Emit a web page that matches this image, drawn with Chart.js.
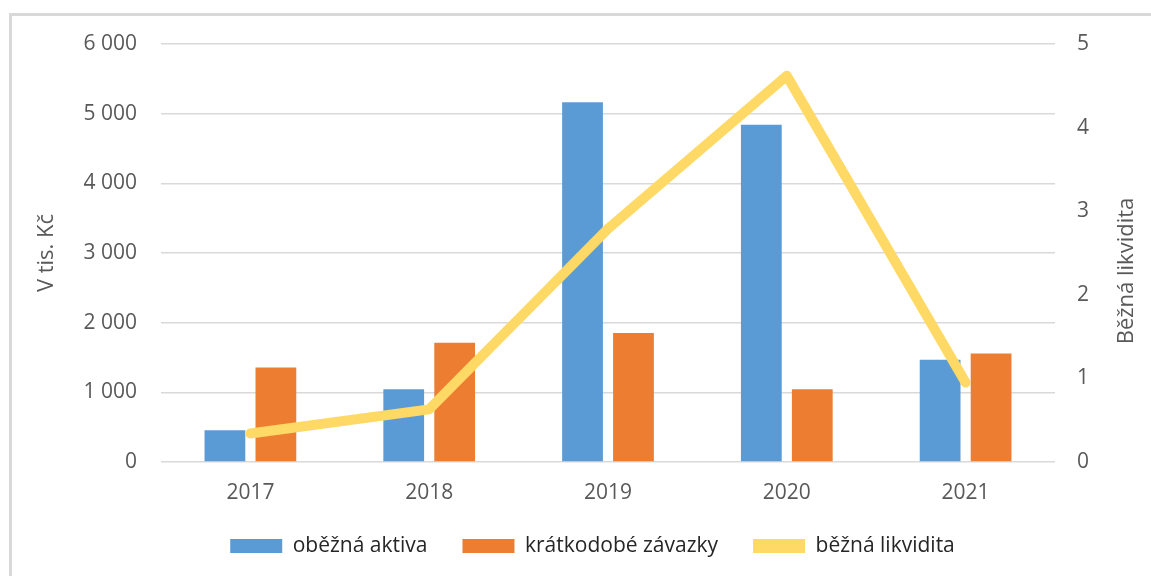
<!DOCTYPE html>
<html>
<head>
<meta charset="utf-8">
<script src="https://cdn.jsdelivr.net/npm/chart.js@4"></script>
<style>
  html, body { margin: 0; padding: 0; background: #fff; overflow: hidden; }
  #frame { position: absolute; left: 9px; top: 13px; width: 1200px; height: 600px;
           border-top: 3px solid #D9D9D9; border-left: 3px solid #D9D9D9; }
  #wrap { position: absolute; left: 0; top: 0; width: 1151px; height: 576px; }
</style>
</head>
<body>
<div id="frame"></div>
<div id="wrap"><canvas id="likviditaChart"></canvas></div>
<script>
// Data
const years = ['2017', '2018', '2019', '2020', '2021'];
const obeznaAktiva = [455, 1045, 5165, 4840, 1466];
const kratkodobeZavazky = [1355, 1710, 1850, 1045, 1556];
const beznaLikvidita = [0.34, 0.63, 2.79, 4.62, 0.95];
const rightTitle = 'Běžná likvidita';

const FONT = '"Open Sans", "Liberation Sans", sans-serif';
const TEXT = '#595959';

function thousands(v) {
    return String(v).replace(/\B(?=(\d{3})+(?!\d))/g, ' ');
}

// right axis title reads bottom-to-top like the left one
const rightTitlePlugin = {
    id: 'rightTitle',
    afterDraw(chart) {
        const ctx = chart.ctx;
        ctx.save();
        ctx.translate(1127, 271);
        ctx.rotate(-Math.PI / 2);
        ctx.font = '22px ' + FONT;
        ctx.fillStyle = TEXT;
        ctx.textAlign = 'center';
        ctx.textBaseline = 'middle';
        ctx.fillText(rightTitle, 0, 0);
        ctx.restore();
    }
};

function createChart() {
    const ctx = document.getElementById('likviditaChart').getContext('2d');
    return new Chart(ctx, {
        type: 'bar',
        data: {
            labels: years,
            datasets: [
                {
                    label: 'oběžná aktiva',
                    data: obeznaAktiva,
                    backgroundColor: '#5B9BD5',
                    yAxisID: 'y',
                    order: 1,
                    categoryPercentage: 0.57,
                    barPercentage: 0.8
                },
                {
                    label: 'krátkodobé závazky',
                    data: kratkodobeZavazky,
                    backgroundColor: '#ED7D31',
                    yAxisID: 'y',
                    order: 1,
                    categoryPercentage: 0.57,
                    barPercentage: 0.8
                },
                {
                    type: 'line',
                    label: 'běžná likvidita',
                    data: beznaLikvidita,
                    borderColor: '#FFD966',
                    backgroundColor: '#FFD966',
                    borderWidth: 10,
                    borderCapStyle: 'round',
                    borderJoinStyle: 'round',
                    pointRadius: 0,
                    tension: 0,
                    yAxisID: 'y1',
                    order: 0
                }
            ]
        },
        plugins: [rightTitlePlugin],
        options: {
            responsive: false,
            animation: false,
            layout: { padding: { top: 44, bottom: 9.5, left: 34, right: 0 } },
            plugins: {
                tooltip: { enabled: false },
                legend: {
                    position: 'bottom',
                    labels: {
                        boxWidth: 52,
                        boxHeight: 14,
                        padding: 35,
                        color: '#262626',
                        font: { family: FONT, size: 21 },
                        sort: (a, b) => a.datasetIndex - b.datasetIndex,
                        generateLabels: chart => {
                            const items = Chart.defaults.plugins.legend.labels.generateLabels(chart);
                            items.forEach(it => { it.lineWidth = 0; it.strokeStyle = it.fillStyle; });
                            return items;
                        }
                    }
                }
            },
            scales: {
                x: {
                    afterFit: s => { s.height = 38.5; },
                    grid: { display: false },
                    border: { display: false },
                    ticks: { color: TEXT, font: { family: FONT, size: 21 }, padding: 10 }
                },
                y: {
                    position: 'left',
                    min: 0,
                    max: 6000,
                    afterFit: s => { s.width = 127; },
                    grid: { color: '#D9D9D9', lineWidth: 1.5, drawTicks: false },
                    border: { display: false },
                    ticks: {
                        stepSize: 1000,
                        padding: 24,
                        color: TEXT,
                        font: { family: FONT, size: 21 },
                        callback: v => thousands(v)
                    },
                    title: {
                        display: true,
                        text: 'V tis. Kč',
                        color: TEXT,
                        font: { family: FONT, size: 22 },
                        padding: { top: 0, bottom: 0 }
                    }
                },
                y1: {
                    position: 'right',
                    min: 0,
                    max: 5,
                    afterFit: s => { s.width = 96; },
                    grid: { display: false, drawTicks: false },
                    border: { display: false },
                    ticks: {
                        stepSize: 1,
                        padding: 22,
                        color: TEXT,
                        font: { family: FONT, size: 21 }
                    }
                }
            }
        }
    });
}

const canvas = document.getElementById('likviditaChart');
canvas.width = 1151;
canvas.height = 576;
window.myChart = createChart();
</script>
</body>
</html>
